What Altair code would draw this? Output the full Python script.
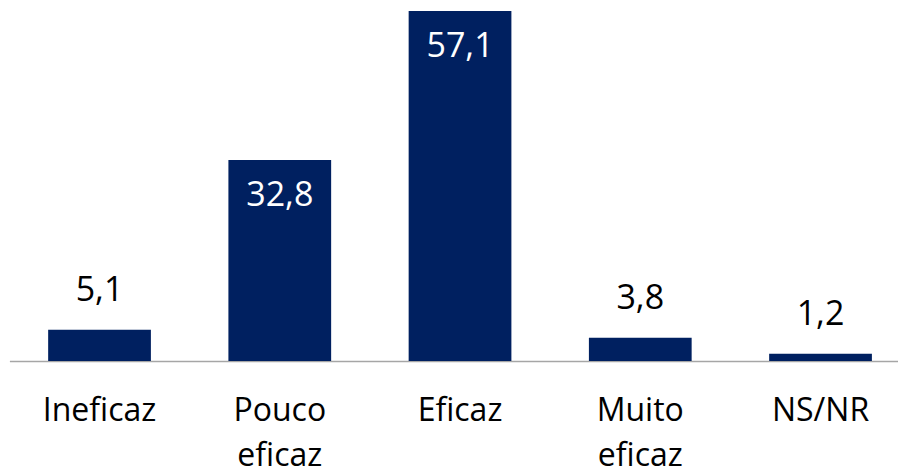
import altair as alt
import pandas as pd

categories = ["Ineficaz", "Pouco eficaz", "Eficaz", "Muito eficaz", "NS/NR"]
values = [5.1, 32.8, 57.1, 3.8, 1.2]

df = pd.DataFrame({"cat": categories, "val": values})
df["label"] = df["val"].map(lambda v: f"{v:.1f}".replace(".", ","))
df["inside"] = df["val"] > 10

x = alt.X("cat:N", sort=categories,
          scale=alt.Scale(range=[0.4, 901.65], paddingInner=0.43, paddingOuter=0.215),
          axis=alt.Axis(title=None, labelAngle=0, labelFont="Open Sans", labelFontSize=32,
                        labelColor="#000000", ticks=False, domainColor="#a6a6a6", domainWidth=1.5,
                        labelPadding=34, labelBaseline="top", labelLineHeight=45,
                        labelExpr="split(datum.label, ' ')"))
y = alt.Y("val:Q", scale=alt.Scale(domain=[0, 57.6], nice=False), axis=None)

base = alt.Chart(df)
bars = base.mark_bar(color="#002060").encode(x=x, y=y)
out_txt = base.transform_filter("!datum.inside").mark_text(
    font="Open Sans", fontSize=34, dy=-29, baseline="alphabetic", color="#000000"
).encode(x=alt.X("cat:N", sort=categories), y=y, text="label:N")
in_txt = base.transform_filter("datum.inside").mark_text(
    font="Open Sans", fontSize=34, dy=36, baseline="middle", color="#ffffff"
).encode(x=alt.X("cat:N", sort=categories), y=y, text="label:N")

chart = alt.layer(bars, out_txt, in_txt).properties(
    width=889, height=353,
    autosize=alt.AutoSizeParams(type="none"),
    padding={"left": 1, "top": 0, "right": 0, "bottom": 108},
).configure_view(stroke=None)

chart.save("out.html", embed_options={"renderer": "svg", "actions": False})
